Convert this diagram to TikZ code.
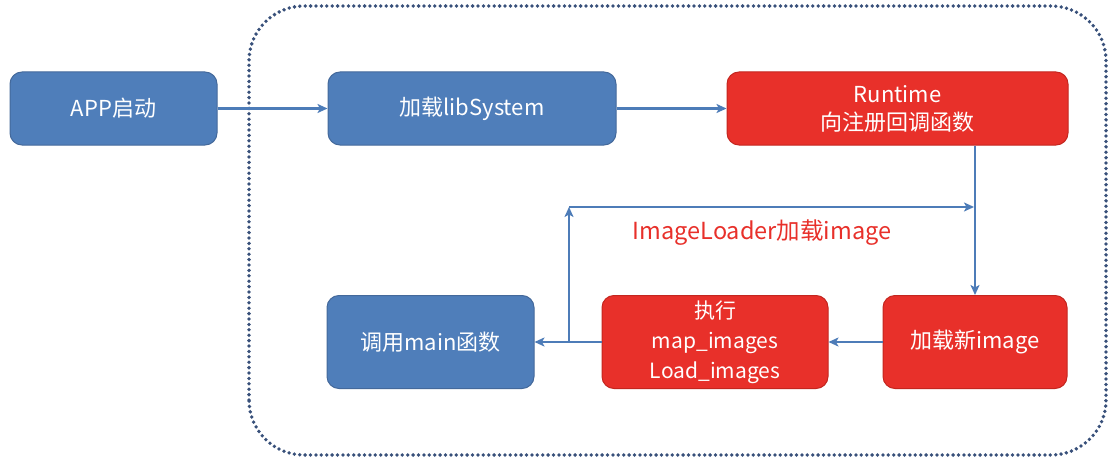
\documentclass[tikz,border=0pt]{standalone}
\usepackage{fontspec}
\setmainfont{Noto Sans CJK SC}
\usetikzlibrary{arrows.meta}
\definecolor{bfill}{HTML}{4F7EBA}
\definecolor{bdraw}{HTML}{44699B}
\definecolor{rfill}{HTML}{E8302A}
\definecolor{rdraw}{HTML}{C4261F}
\definecolor{arr}{HTML}{4D7CB8}
\definecolor{dotc}{HTML}{38507A}
\definecolor{lbl}{HTML}{E8302A}
\tikzset{
  box/.style={rounded corners=12pt, minimum height=73pt, text=white, align=center, inner sep=0pt, font=\fontsize{22}{28}\selectfont, line width=1pt},
  bluebox/.style={box, fill=bfill, draw=bdraw},
  redbox/.style={box, fill=rfill, draw=rdraw},
  conn/.style={draw=arr, line width=2.8pt, -{Stealth[length=10pt,width=9pt,inset=2.5pt]}},
}
\begin{document}
\begin{tikzpicture}[x=1pt,y=1pt]
\useasboundingbox (0,0) rectangle (1113,459);
\fill[white] (0,0) rectangle (1113,459);
\draw[dotc, line width=3.8pt, line cap=round, dash pattern=on 0pt off 5.4pt, rounded corners=55pt] (249,4) rectangle (1106,453);
\node[bluebox, minimum width=207pt] (app) at (113.5,350.5) {APP启动};
\node[bluebox, minimum width=288pt] (lib) at (472,350.5) {加载libSystem};
\node[redbox, minimum width=341pt] (rt) at (897.5,350.5) {Runtime\\向注册回调函数};
\node[bluebox, minimum width=207pt, minimum height=93pt] (mainf) at (430.5,117) {调用main函数};
\node[redbox, minimum width=226pt, minimum height=93pt, font=\fontsize{21}{30}\selectfont] (exec) at (715,117) {执行\\map\_images\\Load\_images};
\node[redbox, minimum width=184pt, minimum height=93pt] (newimg) at (975,117) {加载新image};
\node[text=lbl, font=\fontsize{23.5}{28}\selectfont] (lab) at (762,226) {ImageLoader加载image};
\coordinate (j1) at (569,117);
\coordinate (j2) at (569,252);
\coordinate (j3) at (975,252);
\draw[conn] (app) -- (lib);
\draw[conn] (lib) -- (rt);
\draw[conn] (rt.south -| newimg.north) -- (newimg.north);
\draw[conn] (newimg) -- (exec);
\draw[conn] (exec) -- (mainf);
\draw[conn] (j1) -- (j2);
\draw[conn, shorten >=1pt] (j2) -- (j3);
\end{tikzpicture}
\end{document}
